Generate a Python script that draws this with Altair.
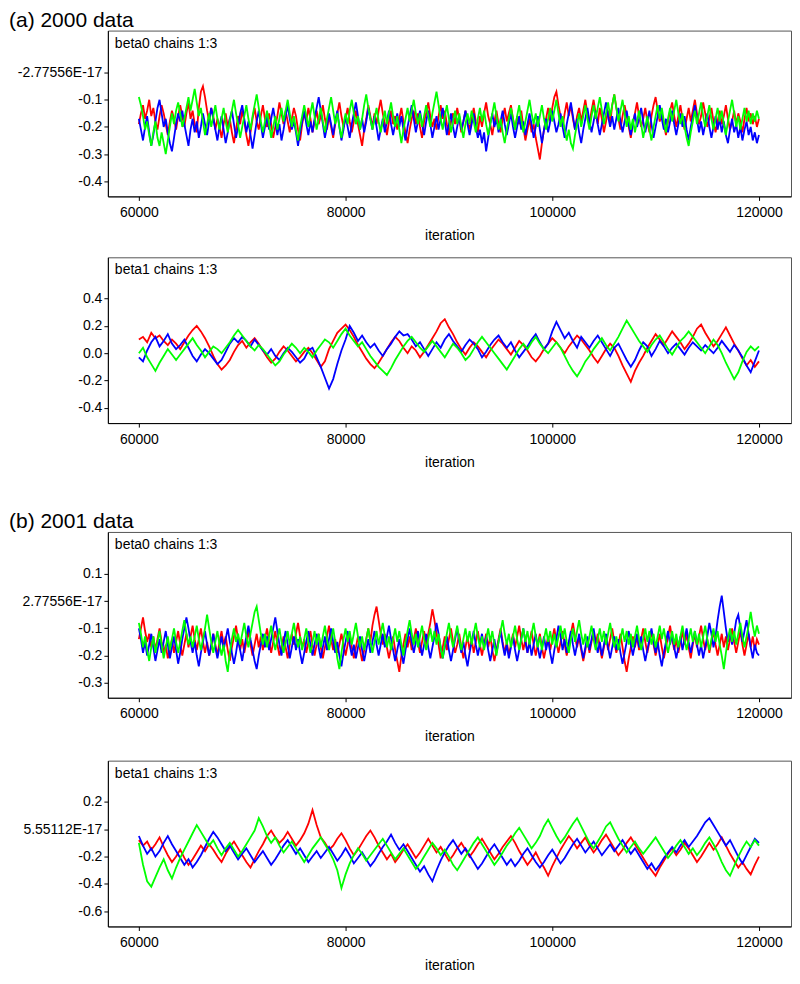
import altair as alt
import pandas as pd

iters_fine = list(range(60000, 120001, 200))    # 301 samples (beta0 traces)
iters_coarse = list(range(60000, 120001, 400))  # 151 samples (beta1 traces)

# ---------- (a) 2000 data, beta0 ----------
a_beta0_red = [
    -0.19, -0.15, -0.12, -0.17, -0.14, -0.10, -0.16, -0.13, -0.18, -0.21, -0.16, -0.12, -0.15, -0.19, -0.23, -0.18, -0.14, -0.17, -0.21, -0.16,
    -0.12, -0.16, -0.20, -0.15, -0.11, -0.17, -0.14, -0.19, -0.22, -0.13, -0.07, -0.05, -0.09, -0.14, -0.18, -0.13, -0.16, -0.21, -0.17, -0.20,
    -0.24, -0.19, -0.15, -0.20, -0.17, -0.22, -0.26, -0.21, -0.16, -0.19, -0.14, -0.18, -0.23, -0.27, -0.22, -0.17, -0.13, -0.18, -0.21, -0.16,
    -0.12, -0.17, -0.20, -0.15, -0.19, -0.24, -0.20, -0.16, -0.11, -0.15, -0.19, -0.14, -0.18, -0.22, -0.17, -0.13, -0.16, -0.21, -0.25, -0.19,
    -0.15, -0.18, -0.13, -0.17, -0.22, -0.18, -0.14, -0.19, -0.16, -0.12, -0.17, -0.21, -0.16, -0.20, -0.24, -0.19, -0.15, -0.11, -0.16, -0.20,
    -0.17, -0.13, -0.18, -0.22, -0.18, -0.14, -0.19, -0.23, -0.27, -0.21, -0.17, -0.12, -0.16, -0.20, -0.15, -0.19, -0.14, -0.10, -0.15, -0.19,
    -0.23, -0.18, -0.14, -0.19, -0.16, -0.21, -0.17, -0.13, -0.18, -0.22, -0.26, -0.21, -0.17, -0.14, -0.19, -0.15, -0.20, -0.24, -0.18, -0.15,
    -0.11, -0.16, -0.20, -0.17, -0.21, -0.16, -0.12, -0.17, -0.14, -0.19, -0.23, -0.18, -0.15, -0.19, -0.13, -0.17, -0.22, -0.18, -0.14, -0.18,
    -0.21, -0.17, -0.13, -0.18, -0.22, -0.16, -0.20, -0.15, -0.11, -0.16, -0.19, -0.23, -0.18, -0.14, -0.19, -0.22, -0.17, -0.13, -0.18, -0.15,
    -0.12, -0.17, -0.21, -0.16, -0.19, -0.14, -0.20, -0.25, -0.21, -0.17, -0.22, -0.19, -0.24, -0.28, -0.32, -0.26, -0.21, -0.17, -0.13, -0.18,
    -0.13, -0.09, -0.07, -0.12, -0.16, -0.20, -0.15, -0.11, -0.16, -0.12, -0.17, -0.21, -0.16, -0.13, -0.18, -0.14, -0.10, -0.15, -0.19, -0.14,
    -0.10, -0.15, -0.19, -0.13, -0.17, -0.22, -0.18, -0.14, -0.19, -0.12, -0.08, -0.13, -0.17, -0.21, -0.16, -0.12, -0.16, -0.20, -0.24, -0.19,
    -0.15, -0.11, -0.16, -0.20, -0.17, -0.13, -0.18, -0.22, -0.16, -0.12, -0.09, -0.14, -0.18, -0.15, -0.19, -0.23, -0.18, -0.14, -0.11, -0.16,
    -0.20, -0.16, -0.12, -0.17, -0.21, -0.17, -0.13, -0.18, -0.14, -0.10, -0.15, -0.19, -0.16, -0.11, -0.15, -0.20, -0.17, -0.13, -0.18, -0.22,
    -0.18, -0.14, -0.19, -0.16, -0.12, -0.17, -0.21, -0.18, -0.14, -0.19, -0.15, -0.18, -0.22, -0.17, -0.13, -0.18, -0.15, -0.19, -0.16, -0.20,
    -0.17,
]
a_beta0_blue = [
    -0.17, -0.21, -0.25, -0.20, -0.16, -0.22, -0.27, -0.23, -0.18, -0.13, -0.10, -0.15, -0.20, -0.17, -0.22, -0.26, -0.29, -0.24, -0.19, -0.15,
    -0.18, -0.14, -0.19, -0.23, -0.27, -0.21, -0.17, -0.22, -0.18, -0.24, -0.20, -0.15, -0.19, -0.23, -0.18, -0.13, -0.17, -0.21, -0.25, -0.20,
    -0.16, -0.21, -0.26, -0.22, -0.17, -0.14, -0.19, -0.24, -0.20, -0.15, -0.12, -0.17, -0.22, -0.18, -0.23, -0.28, -0.23, -0.18, -0.14, -0.19,
    -0.24, -0.20, -0.16, -0.21, -0.17, -0.13, -0.18, -0.23, -0.19, -0.25, -0.21, -0.16, -0.12, -0.17, -0.21, -0.18, -0.22, -0.27, -0.22, -0.18,
    -0.14, -0.19, -0.23, -0.18, -0.22, -0.17, -0.13, -0.09, -0.14, -0.19, -0.24, -0.20, -0.15, -0.19, -0.23, -0.18, -0.14, -0.20, -0.25, -0.21,
    -0.16, -0.20, -0.24, -0.19, -0.15, -0.11, -0.16, -0.21, -0.17, -0.22, -0.18, -0.13, -0.17, -0.21, -0.16, -0.20, -0.25, -0.21, -0.17, -0.22,
    -0.18, -0.14, -0.19, -0.23, -0.19, -0.15, -0.20, -0.16, -0.21, -0.25, -0.20, -0.16, -0.12, -0.17, -0.22, -0.18, -0.14, -0.19, -0.23, -0.18,
    -0.14, -0.19, -0.24, -0.20, -0.16, -0.21, -0.17, -0.13, -0.18, -0.23, -0.19, -0.15, -0.20, -0.24, -0.20, -0.16, -0.21, -0.18, -0.14, -0.19,
    -0.23, -0.19, -0.15, -0.20, -0.24, -0.21, -0.26, -0.22, -0.29, -0.24, -0.19, -0.15, -0.20, -0.17, -0.22, -0.18, -0.14, -0.19, -0.23, -0.19,
    -0.15, -0.20, -0.24, -0.20, -0.16, -0.21, -0.18, -0.23, -0.19, -0.15, -0.19, -0.24, -0.20, -0.16, -0.21, -0.26, -0.21, -0.17, -0.22, -0.18,
    -0.14, -0.18, -0.22, -0.19, -0.15, -0.20, -0.24, -0.19, -0.15, -0.11, -0.16, -0.21, -0.17, -0.22, -0.26, -0.21, -0.17, -0.13, -0.18, -0.22,
    -0.18, -0.14, -0.19, -0.23, -0.19, -0.15, -0.11, -0.16, -0.20, -0.16, -0.21, -0.17, -0.13, -0.18, -0.22, -0.18, -0.14, -0.19, -0.23, -0.19,
    -0.15, -0.20, -0.17, -0.13, -0.18, -0.22, -0.18, -0.14, -0.19, -0.24, -0.20, -0.16, -0.12, -0.17, -0.21, -0.17, -0.22, -0.18, -0.14, -0.19,
    -0.23, -0.19, -0.15, -0.20, -0.16, -0.21, -0.25, -0.20, -0.16, -0.12, -0.17, -0.22, -0.18, -0.23, -0.19, -0.15, -0.20, -0.24, -0.20, -0.16,
    -0.21, -0.17, -0.22, -0.18, -0.23, -0.26, -0.21, -0.17, -0.22, -0.19, -0.24, -0.20, -0.25, -0.21, -0.18, -0.23, -0.20, -0.25, -0.22, -0.26,
    -0.23,
]
a_beta0_green = [
    -0.09, -0.12, -0.16, -0.21, -0.18, -0.23, -0.27, -0.22, -0.18, -0.24, -0.27, -0.22, -0.26, -0.30, -0.25, -0.20, -0.15, -0.19, -0.14, -0.11,
    -0.15, -0.20, -0.17, -0.13, -0.09, -0.14, -0.10, -0.06, -0.11, -0.16, -0.13, -0.18, -0.23, -0.19, -0.15, -0.20, -0.16, -0.12, -0.17, -0.21,
    -0.17, -0.13, -0.18, -0.22, -0.18, -0.14, -0.10, -0.15, -0.19, -0.24, -0.20, -0.16, -0.12, -0.17, -0.21, -0.16, -0.12, -0.08, -0.13, -0.18,
    -0.22, -0.18, -0.14, -0.19, -0.24, -0.20, -0.16, -0.21, -0.17, -0.13, -0.18, -0.14, -0.10, -0.15, -0.20, -0.16, -0.21, -0.25, -0.20, -0.16,
    -0.12, -0.16, -0.20, -0.15, -0.11, -0.16, -0.21, -0.17, -0.13, -0.18, -0.22, -0.17, -0.13, -0.09, -0.14, -0.19, -0.15, -0.20, -0.24, -0.19,
    -0.15, -0.19, -0.14, -0.10, -0.15, -0.19, -0.16, -0.21, -0.17, -0.12, -0.08, -0.13, -0.17, -0.21, -0.17, -0.13, -0.18, -0.22, -0.18, -0.14,
    -0.19, -0.15, -0.11, -0.16, -0.20, -0.16, -0.21, -0.26, -0.21, -0.17, -0.13, -0.18, -0.14, -0.10, -0.15, -0.19, -0.15, -0.20, -0.16, -0.12,
    -0.16, -0.20, -0.15, -0.11, -0.07, -0.12, -0.17, -0.21, -0.16, -0.12, -0.17, -0.22, -0.18, -0.14, -0.19, -0.15, -0.20, -0.24, -0.19, -0.15,
    -0.19, -0.14, -0.18, -0.22, -0.17, -0.13, -0.18, -0.14, -0.19, -0.23, -0.19, -0.15, -0.11, -0.16, -0.21, -0.17, -0.22, -0.26, -0.21, -0.17,
    -0.13, -0.17, -0.21, -0.16, -0.12, -0.17, -0.22, -0.18, -0.14, -0.10, -0.15, -0.19, -0.15, -0.20, -0.16, -0.12, -0.17, -0.21, -0.17, -0.13,
    -0.18, -0.14, -0.10, -0.15, -0.20, -0.16, -0.21, -0.25, -0.21, -0.26, -0.28, -0.23, -0.19, -0.15, -0.20, -0.16, -0.12, -0.17, -0.21, -0.16,
    -0.12, -0.17, -0.13, -0.09, -0.14, -0.19, -0.15, -0.11, -0.16, -0.12, -0.08, -0.13, -0.18, -0.14, -0.10, -0.15, -0.20, -0.16, -0.21, -0.17,
    -0.22, -0.18, -0.14, -0.19, -0.24, -0.20, -0.16, -0.21, -0.25, -0.20, -0.16, -0.12, -0.17, -0.13, -0.18, -0.22, -0.17, -0.13, -0.18, -0.14,
    -0.10, -0.15, -0.19, -0.15, -0.20, -0.24, -0.27, -0.22, -0.18, -0.14, -0.19, -0.15, -0.11, -0.16, -0.20, -0.16, -0.12, -0.17, -0.21, -0.17,
    -0.13, -0.18, -0.14, -0.19, -0.23, -0.18, -0.14, -0.10, -0.15, -0.20, -0.16, -0.21, -0.17, -0.13, -0.18, -0.14, -0.19, -0.15, -0.18, -0.14,
    -0.17,
]

# ---------- (a) 2000 data, beta1 ----------
a_beta1_red = [
    0.10, 0.12, 0.08, 0.15, 0.11, 0.13, 0.09, 0.06, 0.10, 0.07,
    0.03, 0.08, 0.13, 0.17, 0.20, 0.16, 0.11, 0.05, -0.02, -0.08,
    -0.12, -0.09, -0.05, 0.01, 0.06, 0.09, 0.04, 0.08, 0.11, 0.07,
    0.02, -0.03, -0.07, -0.04, 0.01, 0.05, 0.02, -0.02, -0.06, -0.03,
    0.01, 0.04, 0.00, -0.05, -0.10, -0.06, 0.03, 0.09, 0.15, 0.18,
    0.21, 0.17, 0.12, 0.06, 0.01, -0.04, -0.08, -0.11, -0.07, -0.02,
    0.03, 0.08, 0.12, 0.09, 0.04, 0.00, 0.05, 0.02, -0.03, 0.01,
    0.06, 0.11, 0.16, 0.22, 0.25, 0.19, 0.14, 0.08, 0.03, -0.01,
    0.04, 0.08, 0.05, 0.01, -0.03, 0.02, 0.06, 0.10, 0.07, 0.03,
    -0.01, 0.04, 0.09, 0.06, 0.02, -0.03, -0.06, -0.02, 0.03, 0.07,
    0.11, 0.08, 0.04, 0.00, 0.05, 0.09, 0.13, 0.10, 0.06, 0.02,
    -0.03, -0.07, -0.02, 0.03, 0.07, 0.04, -0.02, -0.09, -0.15, -0.21,
    -0.13, -0.07, -0.02, 0.04, 0.09, 0.14, 0.10, 0.06, 0.11, 0.16,
    0.12, 0.08, 0.03, 0.07, 0.12, 0.18, 0.21, 0.15, 0.10, 0.05,
    0.09, 0.14, 0.19, 0.13, 0.07, 0.02, -0.04, -0.09, -0.05, -0.10,
    -0.06,
]
a_beta1_blue = [
    -0.03, -0.06, 0.02, 0.08, 0.12, 0.05, 0.09, 0.14, 0.07, 0.03,
    0.06, 0.10, 0.04, -0.02, -0.06, -0.01, 0.03, 0.00, -0.04, -0.08,
    -0.05, 0.01, 0.07, 0.11, 0.08, 0.12, 0.09, 0.05, 0.10, 0.06,
    0.02, -0.01, 0.03, -0.02, -0.05, 0.00, 0.04, 0.01, -0.03, -0.07,
    -0.04, 0.02, 0.04, -0.03, -0.10, -0.18, -0.26, -0.19, -0.08, 0.02,
    0.10, 0.20, 0.15, 0.09, 0.13, 0.08, 0.04, 0.07, 0.02, -0.02,
    0.03, 0.07, 0.12, 0.16, 0.13, 0.14, 0.10, 0.05, 0.08, 0.03,
    -0.02, 0.03, 0.08, 0.04, 0.10, 0.14, 0.09, 0.05, 0.01, 0.06,
    0.10, 0.07, 0.03, -0.03, 0.01, 0.06, 0.10, 0.13, 0.08, 0.04,
    0.08, 0.02, -0.03, 0.01, 0.05, 0.10, 0.14, 0.08, 0.03, 0.07,
    0.16, 0.23, 0.17, 0.11, 0.15, 0.09, 0.04, 0.12, 0.08, 0.04,
    0.09, 0.13, 0.08, 0.03, -0.02, 0.04, 0.07, 0.01, -0.05, -0.10,
    -0.05, 0.02, 0.08, 0.05, -0.02, 0.03, 0.09, 0.05, 0.00, 0.04,
    0.07, 0.03, -0.01, 0.04, 0.08, 0.05, 0.02, 0.06, 0.03, 0.00,
    0.04, 0.09, 0.05, 0.01, 0.06, 0.02, -0.03, -0.09, -0.14, -0.06,
    0.02,
]
a_beta1_green = [
    0.00, 0.04, -0.03, -0.08, -0.13, -0.07, -0.02, 0.03, -0.01, -0.05,
    -0.01, 0.03, 0.07, 0.11, 0.06, 0.02, -0.03, 0.01, 0.05, 0.03,
    0.00, 0.04, 0.08, 0.13, 0.17, 0.13, 0.09, 0.05, 0.02, 0.06,
    0.03, -0.01, -0.05, -0.09, -0.06, -0.01, 0.03, 0.07, 0.04, 0.00,
    0.04, 0.01, -0.03, 0.02, 0.06, 0.10, 0.08, 0.04, 0.09, 0.14,
    0.18, 0.13, 0.09, 0.05, 0.08, 0.03, -0.02, -0.06, -0.10, -0.13,
    -0.16, -0.11, -0.05, 0.00, 0.05, 0.09, 0.12, 0.08, 0.04, 0.01,
    0.05, 0.09, 0.05, 0.01, -0.03, 0.02, 0.07, 0.04, 0.00, -0.05,
    -0.02, 0.03, 0.08, 0.12, 0.08, 0.04, 0.00, -0.04, -0.08, -0.12,
    -0.07, -0.02, 0.03, 0.07, 0.03, 0.08, 0.12, 0.07, 0.03, 0.00,
    0.04, 0.08, 0.04, -0.02, -0.08, -0.13, -0.17, -0.12, -0.06, -0.02,
    0.03, 0.07, 0.11, 0.06, 0.02, 0.07, 0.12, 0.18, 0.24, 0.19,
    0.14, 0.09, 0.05, 0.01, 0.06, 0.10, 0.13, 0.08, 0.03, -0.01,
    0.04, 0.09, 0.12, 0.16, 0.12, 0.08, 0.04, 0.00, 0.05, 0.10,
    0.06, 0.00, -0.07, -0.13, -0.19, -0.14, -0.06, 0.01, 0.05, 0.02,
    0.05,
]

# ---------- (b) 2001 data, beta0 ----------
b_beta0_red = [
    -0.14, -0.10, -0.06, -0.11, -0.15, -0.12, -0.17, -0.13, -0.18, -0.14, -0.10, -0.15, -0.19, -0.16, -0.21, -0.18, -0.14, -0.19, -0.15, -0.11,
    -0.16, -0.20, -0.16, -0.12, -0.17, -0.13, -0.09, -0.14, -0.18, -0.14, -0.10, -0.15, -0.19, -0.15, -0.20, -0.17, -0.12, -0.16, -0.20, -0.15,
    -0.11, -0.16, -0.13, -0.18, -0.22, -0.17, -0.13, -0.09, -0.14, -0.18, -0.14, -0.19, -0.15, -0.11, -0.16, -0.20, -0.16, -0.12, -0.17, -0.13,
    -0.18, -0.14, -0.10, -0.15, -0.19, -0.15, -0.11, -0.16, -0.20, -0.17, -0.13, -0.17, -0.21, -0.16, -0.12, -0.16, -0.12, -0.08, -0.13, -0.17,
    -0.14, -0.19, -0.15, -0.11, -0.16, -0.20, -0.16, -0.12, -0.17, -0.21, -0.17, -0.13, -0.09, -0.14, -0.18, -0.14, -0.19, -0.16, -0.12, -0.16,
    -0.20, -0.16, -0.12, -0.17, -0.21, -0.17, -0.13, -0.18, -0.22, -0.18, -0.14, -0.10, -0.15, -0.09, -0.05, -0.02, -0.07, -0.12, -0.16, -0.12,
    -0.17, -0.21, -0.17, -0.13, -0.18, -0.22, -0.26, -0.20, -0.16, -0.12, -0.17, -0.13, -0.18, -0.14, -0.10, -0.15, -0.19, -0.15, -0.11, -0.16,
    -0.12, -0.08, -0.03, -0.07, -0.12, -0.16, -0.21, -0.17, -0.13, -0.18, -0.14, -0.10, -0.15, -0.19, -0.16, -0.12, -0.17, -0.21, -0.17, -0.13,
    -0.18, -0.14, -0.19, -0.15, -0.11, -0.16, -0.20, -0.16, -0.12, -0.17, -0.13, -0.18, -0.22, -0.18, -0.14, -0.10, -0.15, -0.19, -0.15, -0.20,
    -0.16, -0.12, -0.17, -0.13, -0.09, -0.14, -0.18, -0.14, -0.19, -0.15, -0.11, -0.16, -0.20, -0.16, -0.12, -0.17, -0.21, -0.17, -0.13, -0.18,
    -0.14, -0.10, -0.15, -0.19, -0.15, -0.11, -0.16, -0.20, -0.16, -0.12, -0.08, -0.13, -0.17, -0.13, -0.18, -0.22, -0.18, -0.14, -0.19, -0.15,
    -0.11, -0.16, -0.12, -0.17, -0.21, -0.17, -0.13, -0.18, -0.14, -0.10, -0.15, -0.19, -0.16, -0.12, -0.17, -0.22, -0.26, -0.21, -0.17, -0.13,
    -0.17, -0.13, -0.18, -0.14, -0.10, -0.15, -0.19, -0.15, -0.11, -0.16, -0.20, -0.16, -0.12, -0.17, -0.21, -0.17, -0.13, -0.09, -0.14, -0.18,
    -0.14, -0.19, -0.15, -0.11, -0.16, -0.12, -0.17, -0.21, -0.16, -0.12, -0.17, -0.13, -0.09, -0.14, -0.18, -0.14, -0.19, -0.15, -0.11, -0.16,
    -0.20, -0.16, -0.12, -0.17, -0.13, -0.18, -0.14, -0.10, -0.15, -0.19, -0.15, -0.11, -0.16, -0.20, -0.16, -0.12, -0.17, -0.13, -0.18, -0.14,
    -0.16,
]
b_beta0_blue = [
    -0.10, -0.14, -0.19, -0.15, -0.20, -0.16, -0.12, -0.17, -0.22, -0.18, -0.14, -0.19, -0.15, -0.11, -0.16, -0.21, -0.17, -0.13, -0.18, -0.23,
    -0.19, -0.14, -0.10, -0.06, -0.10, -0.15, -0.19, -0.15, -0.20, -0.24, -0.19, -0.15, -0.11, -0.16, -0.20, -0.16, -0.12, -0.17, -0.21, -0.17,
    -0.13, -0.18, -0.14, -0.10, -0.15, -0.19, -0.23, -0.19, -0.14, -0.18, -0.22, -0.17, -0.13, -0.09, -0.14, -0.18, -0.22, -0.25, -0.20, -0.16,
    -0.12, -0.17, -0.13, -0.18, -0.14, -0.10, -0.06, -0.11, -0.16, -0.20, -0.15, -0.11, -0.16, -0.21, -0.17, -0.13, -0.18, -0.14, -0.19, -0.23,
    -0.19, -0.15, -0.11, -0.16, -0.20, -0.16, -0.12, -0.17, -0.21, -0.17, -0.13, -0.18, -0.14, -0.10, -0.15, -0.19, -0.15, -0.20, -0.24, -0.19,
    -0.15, -0.11, -0.16, -0.20, -0.16, -0.21, -0.17, -0.13, -0.18, -0.22, -0.18, -0.14, -0.19, -0.15, -0.11, -0.16, -0.20, -0.16, -0.12, -0.17,
    -0.13, -0.09, -0.14, -0.18, -0.22, -0.18, -0.14, -0.19, -0.23, -0.18, -0.14, -0.10, -0.15, -0.19, -0.15, -0.11, -0.16, -0.20, -0.16, -0.12,
    -0.17, -0.21, -0.17, -0.13, -0.08, -0.12, -0.17, -0.21, -0.17, -0.13, -0.18, -0.22, -0.18, -0.14, -0.10, -0.15, -0.19, -0.15, -0.20, -0.24,
    -0.19, -0.15, -0.11, -0.16, -0.20, -0.16, -0.12, -0.17, -0.13, -0.18, -0.22, -0.18, -0.14, -0.19, -0.15, -0.11, -0.16, -0.20, -0.16, -0.21,
    -0.17, -0.13, -0.18, -0.22, -0.18, -0.14, -0.10, -0.15, -0.19, -0.15, -0.20, -0.16, -0.12, -0.17, -0.21, -0.17, -0.13, -0.18, -0.14, -0.19,
    -0.23, -0.18, -0.14, -0.09, -0.13, -0.18, -0.14, -0.19, -0.15, -0.11, -0.16, -0.20, -0.16, -0.12, -0.17, -0.21, -0.17, -0.13, -0.18, -0.14,
    -0.10, -0.15, -0.19, -0.15, -0.20, -0.16, -0.12, -0.17, -0.21, -0.17, -0.13, -0.18, -0.14, -0.19, -0.23, -0.19, -0.15, -0.11, -0.16, -0.20,
    -0.16, -0.12, -0.17, -0.13, -0.18, -0.22, -0.18, -0.14, -0.10, -0.15, -0.19, -0.15, -0.20, -0.24, -0.19, -0.15, -0.11, -0.16, -0.12, -0.17,
    -0.21, -0.17, -0.13, -0.18, -0.14, -0.10, -0.15, -0.19, -0.15, -0.11, -0.16, -0.20, -0.16, -0.21, -0.17, -0.13, -0.08, -0.12, -0.17, -0.13,
    -0.07, -0.02, 0.02, -0.04, -0.10, -0.15, -0.11, -0.16, -0.12, -0.07, -0.05, -0.10, -0.15, -0.11, -0.07, -0.12, -0.17, -0.21, -0.16, -0.19,
    -0.20,
]
b_beta0_green = [
    -0.08, -0.12, -0.17, -0.13, -0.18, -0.22, -0.17, -0.13, -0.19, -0.15, -0.11, -0.16, -0.21, -0.17, -0.13, -0.18, -0.14, -0.10, -0.15, -0.19,
    -0.15, -0.11, -0.07, -0.12, -0.16, -0.13, -0.17, -0.13, -0.09, -0.14, -0.18, -0.14, -0.10, -0.05, -0.10, -0.15, -0.19, -0.15, -0.11, -0.16,
    -0.20, -0.16, -0.22, -0.26, -0.19, -0.14, -0.10, -0.15, -0.12, -0.16, -0.12, -0.08, -0.13, -0.17, -0.12, -0.08, -0.04, -0.02, -0.07, -0.12,
    -0.16, -0.12, -0.17, -0.13, -0.09, -0.14, -0.18, -0.14, -0.10, -0.15, -0.19, -0.15, -0.11, -0.16, -0.12, -0.08, -0.13, -0.17, -0.13, -0.18,
    -0.14, -0.10, -0.15, -0.19, -0.15, -0.11, -0.16, -0.12, -0.17, -0.13, -0.09, -0.14, -0.18, -0.14, -0.10, -0.15, -0.21, -0.25, -0.19, -0.14,
    -0.10, -0.15, -0.11, -0.16, -0.12, -0.08, -0.13, -0.17, -0.13, -0.18, -0.14, -0.10, -0.15, -0.19, -0.15, -0.11, -0.16, -0.12, -0.08, -0.13,
    -0.17, -0.13, -0.18, -0.14, -0.10, -0.15, -0.11, -0.16, -0.20, -0.15, -0.11, -0.07, -0.12, -0.16, -0.12, -0.17, -0.13, -0.09, -0.14, -0.18,
    -0.14, -0.10, -0.15, -0.11, -0.16, -0.12, -0.17, -0.21, -0.16, -0.12, -0.08, -0.13, -0.17, -0.13, -0.09, -0.14, -0.18, -0.14, -0.10, -0.15,
    -0.11, -0.16, -0.12, -0.08, -0.13, -0.17, -0.13, -0.18, -0.14, -0.10, -0.15, -0.11, -0.16, -0.20, -0.15, -0.11, -0.07, -0.12, -0.16, -0.12,
    -0.17, -0.13, -0.09, -0.14, -0.18, -0.14, -0.10, -0.15, -0.11, -0.16, -0.12, -0.08, -0.13, -0.17, -0.13, -0.18, -0.14, -0.10, -0.15, -0.11,
    -0.16, -0.12, -0.17, -0.13, -0.09, -0.14, -0.10, -0.15, -0.19, -0.14, -0.10, -0.15, -0.11, -0.07, -0.12, -0.16, -0.12, -0.17, -0.13, -0.09,
    -0.14, -0.18, -0.14, -0.10, -0.15, -0.11, -0.16, -0.12, -0.08, -0.13, -0.17, -0.13, -0.18, -0.14, -0.10, -0.15, -0.11, -0.16, -0.12, -0.17,
    -0.13, -0.09, -0.14, -0.18, -0.14, -0.10, -0.15, -0.11, -0.16, -0.12, -0.17, -0.13, -0.09, -0.14, -0.10, -0.15, -0.19, -0.15, -0.11, -0.16,
    -0.12, -0.17, -0.13, -0.09, -0.14, -0.18, -0.14, -0.10, -0.15, -0.11, -0.16, -0.12, -0.17, -0.13, -0.09, -0.14, -0.18, -0.14, -0.10, -0.15,
    -0.11, -0.16, -0.20, -0.25, -0.19, -0.14, -0.10, -0.15, -0.11, -0.16, -0.12, -0.08, -0.13, -0.17, -0.13, -0.09, -0.04, -0.09, -0.13, -0.09,
    -0.12,
]

# ---------- (b) 2001 data, beta1 ----------
b_beta1_red = [
    -0.08, -0.12, -0.09, -0.15, -0.11, -0.06, -0.13, -0.19, -0.24, -0.20,
    -0.15, -0.21, -0.26, -0.22, -0.17, -0.12, -0.16, -0.11, -0.15, -0.20,
    -0.24, -0.18, -0.13, -0.09, -0.14, -0.19, -0.24, -0.28, -0.22, -0.16,
    -0.11, -0.05, -0.01, -0.06, -0.10, -0.07, -0.02, -0.07, -0.12, -0.08,
    -0.03, 0.04, 0.14, 0.03, -0.06, -0.10, -0.15, -0.12, -0.07, -0.03,
    -0.08, -0.14, -0.19, -0.15, -0.10, -0.05, -0.01, -0.06, -0.12, -0.17,
    -0.22, -0.18, -0.24, -0.20, -0.15, -0.11, -0.16, -0.21, -0.17, -0.12,
    -0.07, -0.12, -0.17, -0.13, -0.18, -0.23, -0.19, -0.14, -0.10, -0.15,
    -0.20, -0.16, -0.11, -0.07, -0.12, -0.17, -0.22, -0.18, -0.13, -0.09,
    -0.05, -0.10, -0.16, -0.21, -0.26, -0.22, -0.17, -0.23, -0.28, -0.34,
    -0.27, -0.21, -0.15, -0.10, -0.05, -0.09, -0.14, -0.10, -0.06, -0.12,
    -0.17, -0.13, -0.08, -0.04, -0.09, -0.14, -0.19, -0.15, -0.10, -0.06,
    -0.11, -0.16, -0.21, -0.26, -0.30, -0.34, -0.28, -0.23, -0.18, -0.14,
    -0.19, -0.15, -0.10, -0.14, -0.19, -0.24, -0.20, -0.15, -0.10, -0.15,
    -0.11, -0.06, -0.12, -0.18, -0.23, -0.28, -0.24, -0.29, -0.33, -0.26,
    -0.20,
]
b_beta1_blue = [
    -0.05, -0.12, -0.18, -0.14, -0.20, -0.16, -0.10, -0.05, -0.11, -0.16,
    -0.21, -0.26, -0.22, -0.28, -0.24, -0.19, -0.13, -0.07, -0.02, -0.06,
    -0.11, -0.16, -0.12, -0.17, -0.22, -0.18, -0.14, -0.19, -0.24, -0.20,
    -0.16, -0.21, -0.26, -0.22, -0.17, -0.12, -0.08, -0.13, -0.18, -0.14,
    -0.19, -0.24, -0.20, -0.16, -0.21, -0.17, -0.13, -0.18, -0.23, -0.19,
    -0.14, -0.19, -0.25, -0.21, -0.17, -0.22, -0.27, -0.23, -0.18, -0.13,
    -0.09, -0.04, -0.10, -0.15, -0.11, -0.16, -0.21, -0.26, -0.31, -0.27,
    -0.33, -0.38, -0.30, -0.23, -0.17, -0.12, -0.08, -0.13, -0.18, -0.14,
    -0.19, -0.24, -0.29, -0.25, -0.20, -0.15, -0.11, -0.16, -0.21, -0.26,
    -0.22, -0.27, -0.23, -0.18, -0.14, -0.19, -0.24, -0.28, -0.24, -0.19,
    -0.15, -0.20, -0.25, -0.21, -0.16, -0.11, -0.07, -0.12, -0.17, -0.13,
    -0.09, -0.14, -0.19, -0.15, -0.11, -0.16, -0.12, -0.08, -0.13, -0.18,
    -0.14, -0.19, -0.24, -0.29, -0.25, -0.30, -0.26, -0.21, -0.17, -0.13,
    -0.17, -0.12, -0.08, -0.13, -0.09, -0.05, 0.00, 0.05, 0.08, 0.03,
    -0.02, -0.07, -0.12, -0.08, -0.14, -0.20, -0.25, -0.19, -0.13, -0.07,
    -0.10,
]
b_beta1_green = [
    -0.10, -0.26, -0.38, -0.42, -0.35, -0.28, -0.22, -0.30, -0.36, -0.28,
    -0.21, -0.15, -0.09, -0.03, 0.03, -0.02, -0.07, -0.12, -0.08, -0.14,
    -0.19, -0.14, -0.10, -0.15, -0.20, -0.16, -0.11, -0.06, -0.01, 0.08,
    0.02, -0.05, -0.10, -0.06, -0.12, -0.17, -0.13, -0.09, -0.14, -0.19,
    -0.24, -0.19, -0.14, -0.10, -0.06, -0.11, -0.16, -0.22, -0.30, -0.43,
    -0.33, -0.25, -0.19, -0.14, -0.18, -0.23, -0.19, -0.15, -0.11, -0.07,
    -0.12, -0.17, -0.22, -0.18, -0.14, -0.19, -0.24, -0.29, -0.25, -0.20,
    -0.15, -0.10, -0.14, -0.19, -0.15, -0.20, -0.26, -0.30, -0.25, -0.20,
    -0.15, -0.10, -0.06, -0.11, -0.16, -0.21, -0.26, -0.22, -0.17, -0.12,
    -0.08, -0.03, 0.01, -0.04, -0.09, -0.14, -0.10, -0.05, 0.02, 0.07,
    0.01, -0.05, -0.10, -0.06, -0.01, 0.04, 0.08, 0.02, -0.04, -0.10,
    -0.14, -0.09, -0.04, 0.02, 0.05, -0.01, -0.07, -0.12, -0.17, -0.13,
    -0.09, -0.14, -0.18, -0.14, -0.10, -0.06, -0.11, -0.16, -0.21, -0.17,
    -0.12, -0.08, -0.13, -0.18, -0.14, -0.19, -0.15, -0.10, -0.06, -0.11,
    -0.17, -0.24, -0.30, -0.34, -0.27, -0.20, -0.14, -0.09, -0.13, -0.08,
    -0.12,
]

x_ticks = [60000, 80000, 100000, 120000]
chain_colors = ["#FF0000", "#0000FF", "#00FF00"]
FONT = "Liberation Sans"


def panel(label, iters, chains, y_domain, y_ticks, label_expr, title=None):
    x_enc = alt.X(
        "iteration:Q",
        scale=alt.Scale(domain=[57000, 123100], nice=False, zero=False),
        axis=alt.Axis(values=x_ticks, format="d", title="iteration",
                      labelFlush=False, labelOverlap=False,
                      labelPadding=5, titlePadding=9),
    )
    y_enc = alt.Y(
        "value:Q",
        scale=alt.Scale(domain=y_domain, nice=False, zero=False),
        axis=alt.Axis(values=y_ticks, title=None, labelExpr=label_expr,
                      labelFlush=False, labelOverlap=False, labelPadding=2),
    )
    layers = []
    for vals, col in zip(chains, chain_colors):
        df = pd.DataFrame({"iteration": iters, "value": vals})
        layers.append(
            alt.Chart(df).mark_line(color=col, strokeWidth=1.8).encode(x=x_enc, y=y_enc)
        )
    txt = alt.Chart(alt.Data(values=[{"k": 1}])).mark_text(
        text=label, align="left", baseline="middle", fontSize=14,
        font=FONT, color="black",
    ).encode(x=alt.value(7), y=alt.value(13))
    props = dict(width=684, height=166)
    if title is not None:
        props["title"] = alt.TitleParams(
            title, anchor="start", frame="group", dx=-99, fontSize=21,
            fontWeight="normal", font=FONT, color="black", offset=0,
        )
    return alt.layer(*layers, txt).properties(**props)


p1 = panel("beta0 chains 1:3", iters_fine, [a_beta0_red, a_beta0_blue, a_beta0_green],
           [-0.456, 0.155], [0, -0.1, -0.2, -0.3, -0.4],
           "datum.value == 0 ? '-2.77556E-17' : '' + datum.value",
           title="(a) 2000 data")
p2 = panel("beta1 chains 1:3", iters_coarse, [a_beta1_red, a_beta1_blue, a_beta1_green],
           [-0.513, 0.704], [0.4, 0.2, 0, -0.2, -0.4],
           "datum.value == 0 ? '0.0' : '' + datum.value")
p3 = panel("beta0 chains 1:3", iters_fine, [b_beta0_red, b_beta0_blue, b_beta0_green],
           [-0.355, 0.254], [0.1, 0, -0.1, -0.2, -0.3],
           "datum.value == 0 ? '2.77556E-17' : '' + datum.value",
           title="(b) 2001 data")
p4 = panel("beta1 chains 1:3", iters_coarse, [b_beta1_red, b_beta1_blue, b_beta1_green],
           [-0.71, 0.50], [0.2, 0, -0.2, -0.4, -0.6],
           "datum.value == 0 ? '5.55112E-17' : '' + datum.value")

chart = alt.vconcat(
    alt.vconcat(p1, p2, spacing=13),
    alt.vconcat(p3, p4, spacing=15),
    spacing=40,
).properties(
    padding={"left": 0, "top": 0, "right": 0, "bottom": 0}
).configure(
    font=FONT,
).configure_view(
    stroke="#555555", strokeWidth=1,
).configure_axis(
    grid=False, domainColor="black", tickColor="black", labelColor="black",
    titleColor="black", labelFont=FONT, titleFont=FONT, labelFontSize=14,
    titleFontSize=14, titleFontWeight="normal", tickSize=4,
)

chart.save("out.html", embed_options={"renderer": "svg", "actions": False})
